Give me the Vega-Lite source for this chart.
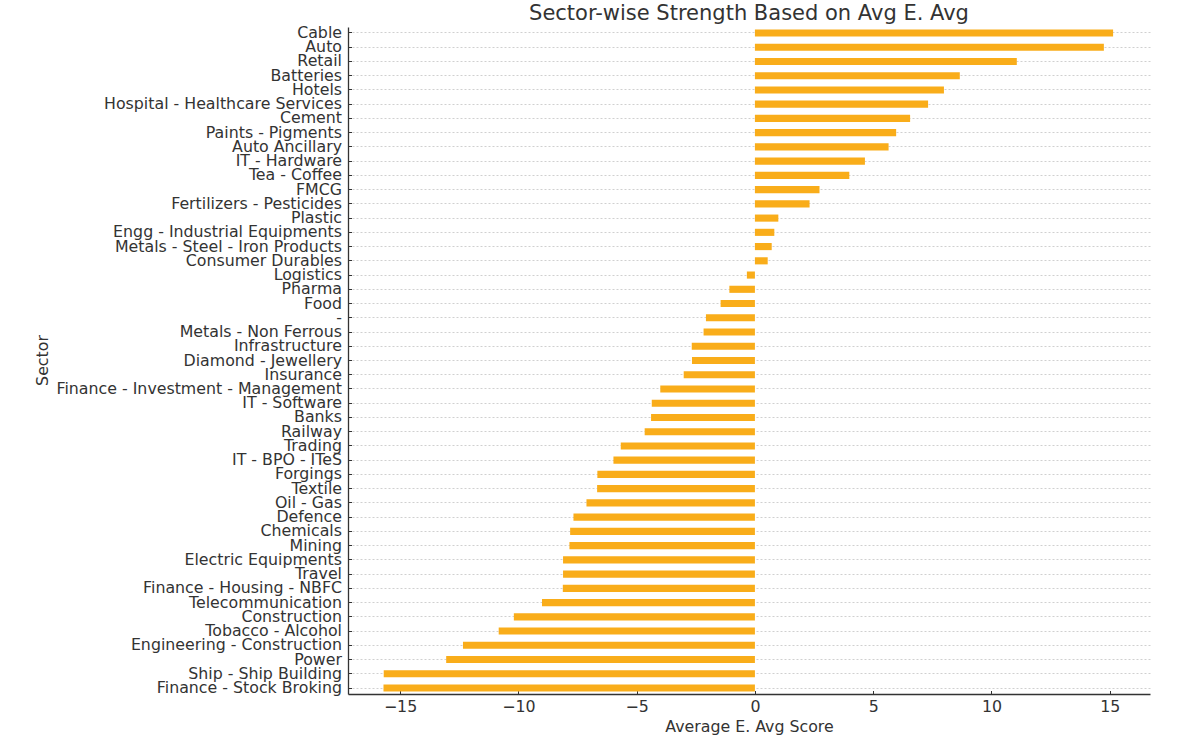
{
  "$schema": "https://vega.github.io/schema/vega-lite/v6.json",
  "description": "Sector-wise strength, horizontal bars",
  "autosize": "none",
  "width": 802,
  "height": 667,
  "padding": {"left": 348, "top": 27, "right": 50, "bottom": 45},
  "background": "white",
  "title": {
    "text": "Sector-wise Strength Based on Avg E. Avg",
    "font": "DejaVu Sans",
    "fontSize": 21,
    "fontWeight": "normal",
    "color": "#333333",
    "offset": 0
  },
  "data": {
    "values": [
      {"Sector": "Cable", "score": 15.14},
      {"Sector": "Auto", "score": 14.75},
      {"Sector": "Retail", "score": 11.07},
      {"Sector": "Batteries", "score": 8.66},
      {"Sector": "Hotels", "score": 7.99},
      {"Sector": "Hospital - Healthcare Services", "score": 7.32},
      {"Sector": "Cement", "score": 6.56},
      {"Sector": "Paints - Pigments", "score": 5.97},
      {"Sector": "Auto Ancillary", "score": 5.65},
      {"Sector": "IT - Hardware", "score": 4.65},
      {"Sector": "Tea - Coffee", "score": 3.99},
      {"Sector": "FMCG", "score": 2.73},
      {"Sector": "Fertilizers - Pesticides", "score": 2.31},
      {"Sector": "Plastic", "score": 0.99},
      {"Sector": "Engg - Industrial Equipments", "score": 0.82},
      {"Sector": "Metals - Steel - Iron Products", "score": 0.71},
      {"Sector": "Consumer Durables", "score": 0.54},
      {"Sector": "Logistics", "score": -0.34},
      {"Sector": "Pharma", "score": -1.08},
      {"Sector": "Food", "score": -1.45},
      {"Sector": "-", "score": -2.07},
      {"Sector": "Metals - Non Ferrous", "score": -2.17},
      {"Sector": "Infrastructure", "score": -2.67},
      {"Sector": "Diamond - Jewellery", "score": -2.66},
      {"Sector": "Insurance", "score": -3.01},
      {"Sector": "Finance - Investment - Management", "score": -4.0},
      {"Sector": "IT - Software", "score": -4.36},
      {"Sector": "Banks", "score": -4.39},
      {"Sector": "Railway", "score": -4.66},
      {"Sector": "Trading", "score": -5.67},
      {"Sector": "IT - BPO - ITeS", "score": -5.98},
      {"Sector": "Forgings", "score": -6.66},
      {"Sector": "Textile", "score": -6.67},
      {"Sector": "Oil - Gas", "score": -7.12},
      {"Sector": "Defence", "score": -7.67},
      {"Sector": "Chemicals", "score": -7.81},
      {"Sector": "Mining", "score": -7.84},
      {"Sector": "Electric Equipments", "score": -8.11},
      {"Sector": "Travel", "score": -8.11},
      {"Sector": "Finance - Housing - NBFC", "score": -8.12},
      {"Sector": "Telecommunication", "score": -9.0},
      {"Sector": "Construction", "score": -10.19},
      {"Sector": "Tobacco - Alcohol", "score": -10.83},
      {"Sector": "Engineering - Construction", "score": -12.34},
      {"Sector": "Power", "score": -13.05},
      {"Sector": "Ship - Ship Building", "score": -15.69},
      {"Sector": "Finance - Stock Broking", "score": -15.7}
    ]
  },
  "mark": {"type": "bar", "color": "#f9ad1a"},
  "encoding": {
    "y": {
      "field": "Sector",
      "type": "nominal",
      "sort": null,
      "title": "Sector",
      "scale": {"paddingInner": 0.5, "paddingOuter": 0.17},
      "axis": {
        "grid": true,
        "gridDash": [2, 2],
        "gridColor": "#c4c4c4",
        "gridWidth": 0.8,
        "tickSize": -3.5,
        "labelPadding": 10,
        "labelLimit": 0,
        "titleX": -306,
        "titleY": 333,
        "titleBaseline": "middle",
        "titleAlign": "center"
      }
    },
    "x": {
      "field": "score",
      "type": "quantitative",
      "title": "Average E. Avg Score",
      "scale": {"domain": [-17.2, 16.7], "nice": false, "zero": false},
      "axis": {
        "grid": false,
        "values": [-15, -10, -5, 0, 5, 10, 15],
        "tickSize": -3.5,
        "labelPadding": 9,
        "titlePadding": 5
      }
    }
  },
  "config": {
    "view": {"stroke": null},
    "axis": {
      "labelFont": "DejaVu Sans",
      "labelFontSize": 15.8,
      "labelColor": "#333333",
      "titleFont": "DejaVu Sans",
      "titleFontSize": 15.8,
      "titleFontWeight": "normal",
      "titleColor": "#333333",
      "domainColor": "#333333",
      "domainWidth": 1.3,
      "tickColor": "#333333",
      "tickWidth": 1
    }
  }
}
